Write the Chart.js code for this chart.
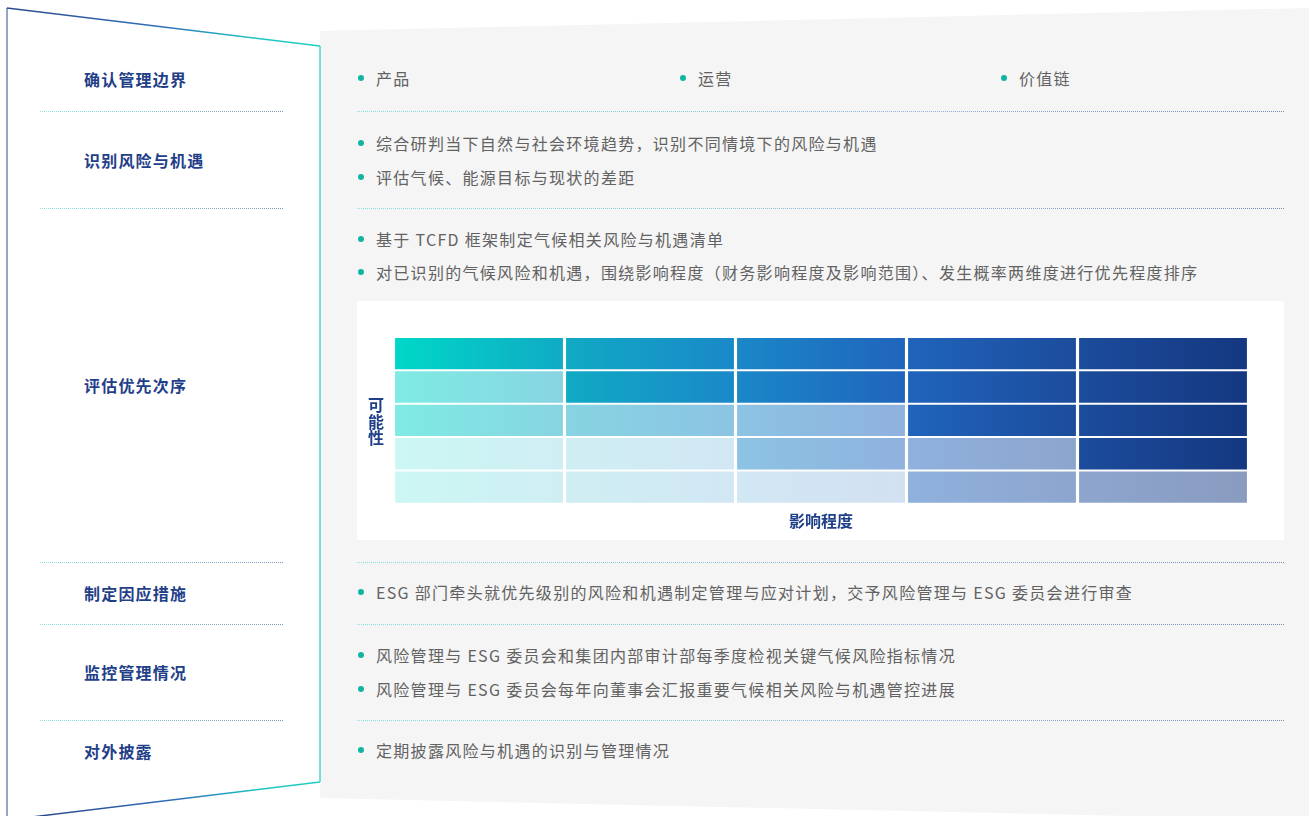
<!DOCTYPE html>
<html lang="zh-CN">
<head>
<meta charset="utf-8">
<title>气候风险管理流程</title>
<script src="https://cdn.jsdelivr.net/npm/chart.js@4.4.1/dist/chart.umd.min.js"></script>
<style>
html, body { margin: 0; padding: 0; background: #fff; }
body { width: 1309px; height: 816px; position: relative; overflow: hidden; font-family: "Noto Sans CJK SC", "Noto Sans", sans-serif; }
#deco { position: absolute; left: 0; top: 0; }
.step { position: absolute; left: 84px; font-size: 16px; font-weight: 700; color: #1f4088; line-height: 20px; white-space: nowrap; letter-spacing: 1.2px; }
.item { position: absolute; font-size: 16px; color: #626262; line-height: 20px; white-space: nowrap; padding-left: 19px; letter-spacing: 1.3px; }
.item::before { content: ""; position: absolute; left: 1px; top: 7px; width: 6px; height: 6px; border-radius: 50%; background: #12b3a3; }
#matrixBox { position: absolute; left: 357px; top: 301px; width: 927px; height: 239px; background: #fff; }
#ylabel { position: absolute; left: 368px; top: 396px; width: 16px; font-size: 16px; font-weight: 700; color: #1f4088; line-height: 16.5px; }
</style>
</head>
<body>
<svg id="deco" width="1309" height="816">
  <defs>
    <linearGradient id="edgeTop" gradientUnits="userSpaceOnUse" x1="7" y1="8" x2="320" y2="46">
      <stop offset="0" stop-color="#2b4a8e"/><stop offset="0.5" stop-color="#2f6fb8"/>
      <stop offset="0.78" stop-color="#1cc4c4"/><stop offset="1" stop-color="#1ccfc4"/>
    </linearGradient>
    <linearGradient id="edgeBot" gradientUnits="userSpaceOnUse" x1="40" y1="816" x2="320" y2="782">
      <stop offset="0" stop-color="#2b4a8e"/><stop offset="0.5" stop-color="#2f6fb8"/>
      <stop offset="0.78" stop-color="#1cc4c4"/><stop offset="1" stop-color="#1ccfc4"/>
    </linearGradient>
    <linearGradient id="sepL" gradientUnits="userSpaceOnUse" x1="40" y1="0" x2="284" y2="0">
      <stop offset="0" stop-color="#3ad8d0"/><stop offset="1" stop-color="#2b4c92"/>
    </linearGradient>
    <linearGradient id="sepR" gradientUnits="userSpaceOnUse" x1="357" y1="0" x2="1285" y2="0">
      <stop offset="0" stop-color="#3ad8d0"/><stop offset="0.6" stop-color="#4a86cc"/><stop offset="1" stop-color="#1f3f8c"/>
    </linearGradient>
  </defs>
  <polygon points="320,31 1309,8 1309,820 320,798" fill="#f5f5f5"/>
  <polygon points="7,8 320,46 320,782 7,820" fill="#fff"/>
  <line x1="7" y1="8" x2="7" y2="816" stroke="#95a5c9" stroke-width="2"/>
  <line x1="7" y1="8" x2="320" y2="46" stroke="url(#edgeTop)" stroke-width="1.5"/>
  <line x1="320" y1="46" x2="320" y2="782" stroke="#1ccfc4" stroke-width="1.2"/>
  <line x1="7" y1="820" x2="320" y2="782" stroke="url(#edgeBot)" stroke-width="1.5"/>
  <g stroke="url(#sepL)" stroke-width="1" stroke-dasharray="1 1" stroke-opacity="0.6">
    <line x1="40" y1="111.5" x2="284" y2="111.5"/>
    <line x1="40" y1="208.5" x2="284" y2="208.5"/>
    <line x1="40" y1="562.5" x2="284" y2="562.5"/>
    <line x1="40" y1="624.5" x2="284" y2="624.5"/>
    <line x1="40" y1="720.5" x2="284" y2="720.5"/>
  </g>
  <g stroke="url(#sepR)" stroke-width="1" stroke-dasharray="1 1" stroke-opacity="0.6">
    <line x1="357" y1="111.5" x2="1285" y2="111.5"/>
    <line x1="357" y1="208.5" x2="1285" y2="208.5"/>
    <line x1="357" y1="562.5" x2="1285" y2="562.5"/>
    <line x1="357" y1="624.5" x2="1285" y2="624.5"/>
    <line x1="357" y1="720.5" x2="1285" y2="720.5"/>
  </g>
</svg>

<div class="step" style="top:69px">确认管理边界</div>
<div class="step" style="top:150px">识别风险与机遇</div>
<div class="step" style="top:375px">评估优先次序</div>
<div class="step" style="top:583px">制定因应措施</div>
<div class="step" style="top:662px">监控管理情况</div>
<div class="step" style="top:741px">对外披露</div>

<div class="item" style="left:357px;top:68px">产品</div>
<div class="item" style="left:679px;top:68px">运营</div>
<div class="item" style="left:1000px;top:68px">价值链</div>
<div class="item" style="left:357px;top:133px">综合研判当下自然与社会环境趋势，识别不同情境下的风险与机遇</div>
<div class="item" style="left:357px;top:167px">评估气候、能源目标与现状的差距</div>
<div class="item" style="left:357px;top:229px">基于 TCFD 框架制定气候相关风险与机遇清单</div>
<div class="item" style="left:357px;top:262px">对已识别的气候风险和机遇，围绕影响程度（财务影响程度及影响范围）、发生概率两维度进行优先程度排序</div>
<div class="item" style="left:357px;top:582px">ESG 部门牵头就优先级别的风险和机遇制定管理与应对计划，交予风险管理与 ESG 委员会进行审查</div>
<div class="item" style="left:357px;top:645px">风险管理与 ESG 委员会和集团内部审计部每季度检视关键气候风险指标情况</div>
<div class="item" style="left:357px;top:679px">风险管理与 ESG 委员会每年向董事会汇报重要气候相关风险与机遇管控进展</div>
<div class="item" style="left:357px;top:740px">定期披露风险与机遇的识别与管理情况</div>

<div id="matrixBox"><canvas id="matrixCanvas" width="927" height="239"></canvas></div>
<div id="ylabel">可能性</div>

<script>
// impact levels (columns, left to right) and likelihood levels (rows, bottom to top)
const impactLabels = ['1', '2', '3', '4', '5'];
const likelihoodLabels = ['1', '2', '3', '4', '5'];
// every likelihood band takes one unit of height
const bandHeight = [1, 1, 1, 1, 1];
// risk level per cell: 1 low, 2 medium, 3 high; first row is the lowest likelihood
const riskLevels = [
    [1, 1, 1, 2, 2],
    [1, 1, 2, 2, 3],
    [2, 2, 2, 3, 3],
    [2, 3, 3, 3, 3],
    [3, 3, 3, 3, 3]
];

const levelAlpha = { 1: 0.2, 2: 0.5, 3: 1 };
const gradientStops = [
    [0, [0, 216, 200]],
    [0.2, [16, 170, 196]],
    [0.4, [26, 136, 200]],
    [0.6, [32, 100, 188]],
    [0.8, [28, 76, 156]],
    [1, [20, 56, 128]]
];

let gradientCache = {};
let cachedArea = null;

function cellColor(ctx) {
    const chart = ctx.chart;
    const area = chart.chartArea;
    if (!area) return 'rgba(0,0,0,0)';
    const level = riskLevels[ctx.datasetIndex][ctx.dataIndex];
    const key = area.left + ',' + area.right;
    if (cachedArea !== key) {
        gradientCache = {};
        cachedArea = key;
    }
    if (!gradientCache[level]) {
        const g = chart.ctx.createLinearGradient(area.left, 0, area.right, 0);
        gradientStops.forEach(s => {
            const c = s[1];
            g.addColorStop(s[0], 'rgba(' + c[0] + ',' + c[1] + ',' + c[2] + ',' + levelAlpha[level] + ')');
        });
        gradientCache[level] = g;
    }
    return gradientCache[level];
}

const datasets = likelihoodLabels.map((label, i) => ({
    label: '可能性 ' + label,
    data: impactLabels.map(() => bandHeight[i]),
    backgroundColor: cellColor,
    borderColor: '#ffffff',
    borderWidth: { top: 1, bottom: 1, left: 0, right: 0 },
    borderSkipped: false,
    barPercentage: 0.982,
    categoryPercentage: 1
}));

new Chart(document.getElementById('matrixCanvas').getContext('2d'), {
    type: 'bar',
    data: { labels: impactLabels, datasets: datasets },
    options: {
        responsive: false,
        animation: false,
        layout: { padding: { left: 36.5, right: 35.5, top: 36, bottom: 9 } },
        plugins: { legend: { display: false }, tooltip: { enabled: false } },
        scales: {
            x: {
                stacked: true,
                ticks: { display: false },
                grid: { display: false, drawTicks: false },
                border: { display: false },
                title: {
                    display: true,
                    text: '影响程度',
                    color: '#1f4088',
                    font: { family: '"Noto Sans CJK SC", sans-serif', size: 16, weight: 'bold' },
                    padding: { top: 8, bottom: 0 }
                }
            },
            y: {
                display: false,
                stacked: true,
                min: 0,
                max: 5
            }
        }
    }
});
</script>
</body>
</html>
